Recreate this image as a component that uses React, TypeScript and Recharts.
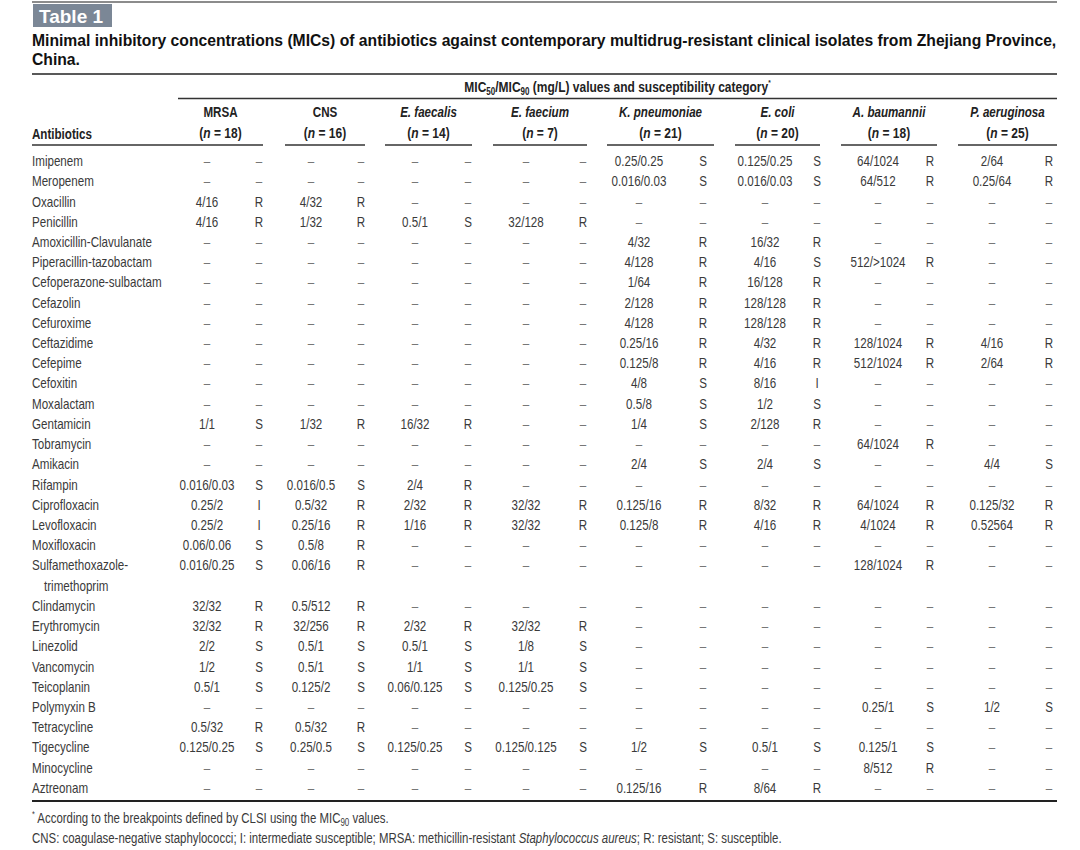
import React from "react";
import { ScatterChart, Scatter, XAxis, YAxis, Customized } from "recharts";

type Cell = [string, string] | null;

// rows of the table
const antibiotics = [
  "Imipenem",
  "Meropenem",
  "Oxacillin",
  "Penicillin",
  "Amoxicillin-Clavulanate",
  "Piperacillin-tazobactam",
  "Cefoperazone-sulbactam",
  "Cefazolin",
  "Cefuroxime",
  "Ceftazidime",
  "Cefepime",
  "Cefoxitin",
  "Moxalactam",
  "Gentamicin",
  "Tobramycin",
  "Amikacin",
  "Rifampin",
  "Ciprofloxacin",
  "Levofloxacin",
  "Moxifloxacin",
  "Sulfamethoxazole-trimethoprim",
  "Clindamycin",
  "Erythromycin",
  "Linezolid",
  "Vancomycin",
  "Teicoplanin",
  "Polymyxin B",
  "Tetracycline",
  "Tigecycline",
  "Minocycline",
  "Aztreonam",
];

const organisms = ["MRSA", "CNS", "E. faecalis", "E. faecium", "K. pneumoniae", "E. coli", "A. baumannii", "P. aeruginosa"];
const italicNames = [false, false, true, true, true, true, true, true];
const isolateCounts = [18, 16, 14, 7, 21, 20, 18, 25];

// MIC50/MIC90 and category per antibiotic (null = "–")
const mrsa: Cell[] = [
  null, null, ["4/16", "R"], ["4/16", "R"], null, null, null, null, null, null, null, null, null,
  ["1/1", "S"], null, null, ["0.016/0.03", "S"], ["0.25/2", "I"], ["0.25/2", "I"], ["0.06/0.06", "S"],
  ["0.016/0.25", "S"], ["32/32", "R"], ["32/32", "R"], ["2/2", "S"], ["1/2", "S"], ["0.5/1", "S"], null,
  ["0.5/32", "R"], ["0.125/0.25", "S"], null, null,
];
const cns: Cell[] = [
  null, null, ["4/32", "R"], ["1/32", "R"], null, null, null, null, null, null, null, null, null,
  ["1/32", "R"], null, null, ["0.016/0.5", "S"], ["0.5/32", "R"], ["0.25/16", "R"], ["0.5/8", "R"],
  ["0.06/16", "R"], ["0.5/512", "R"], ["32/256", "R"], ["0.5/1", "S"], ["0.5/1", "S"], ["0.125/2", "S"], null,
  ["0.5/32", "R"], ["0.25/0.5", "S"], null, null,
];
const eFaecalis: Cell[] = [
  null, null, null, ["0.5/1", "S"], null, null, null, null, null, null, null, null, null,
  ["16/32", "R"], null, null, ["2/4", "R"], ["2/32", "R"], ["1/16", "R"], null,
  null, null, ["2/32", "R"], ["0.5/1", "S"], ["1/1", "S"], ["0.06/0.125", "S"], null,
  null, ["0.125/0.25", "S"], null, null,
];
const eFaecium: Cell[] = [
  null, null, null, ["32/128", "R"], null, null, null, null, null, null, null, null, null,
  null, null, null, null, ["32/32", "R"], ["32/32", "R"], null,
  null, null, ["32/32", "R"], ["1/8", "S"], ["1/1", "S"], ["0.125/0.25", "S"], null,
  null, ["0.125/0.125", "S"], null, null,
];
const kPneumoniae: Cell[] = [
  ["0.25/0.25", "S"], ["0.016/0.03", "S"], null, null, ["4/32", "R"], ["4/128", "R"], ["1/64", "R"],
  ["2/128", "R"], ["4/128", "R"], ["0.25/16", "R"], ["0.125/8", "R"], ["4/8", "S"], ["0.5/8", "S"],
  ["1/4", "S"], null, ["2/4", "S"], null, ["0.125/16", "R"], ["0.125/8", "R"], null,
  null, null, null, null, null, null, null,
  null, ["1/2", "S"], null, ["0.125/16", "R"],
];
const eColi: Cell[] = [
  ["0.125/0.25", "S"], ["0.016/0.03", "S"], null, null, ["16/32", "R"], ["4/16", "S"], ["16/128", "R"],
  ["128/128", "R"], ["128/128", "R"], ["4/32", "R"], ["4/16", "R"], ["8/16", "I"], ["1/2", "S"],
  ["2/128", "R"], null, ["2/4", "S"], null, ["8/32", "R"], ["4/16", "R"], null,
  null, null, null, null, null, null, null,
  null, ["0.5/1", "S"], null, ["8/64", "R"],
];
const aBaumannii: Cell[] = [
  ["64/1024", "R"], ["64/512", "R"], null, null, null, ["512/>1024", "R"], null,
  null, null, ["128/1024", "R"], ["512/1024", "R"], null, null,
  null, ["64/1024", "R"], null, null, ["64/1024", "R"], ["4/1024", "R"], null,
  ["128/1024", "R"], null, null, null, null, null, ["0.25/1", "S"],
  null, ["0.125/1", "S"], ["8/512", "R"], null,
];
const pAeruginosa: Cell[] = [
  ["2/64", "R"], ["0.25/64", "R"], null, null, null, null, null,
  null, null, ["4/16", "R"], ["2/64", "R"], null, null,
  null, null, ["4/4", "S"], null, ["0.125/32", "R"], ["0.52564", "R"], null,
  null, null, null, null, null, null, ["1/2", "S"],
  null, null, null, null,
];

const micByOrganism = [mrsa, cns, eFaecalis, eFaecium, kPneumoniae, eColi, aBaumannii, pAeruginosa];

// layout
const W = 1080;
const H = 850;
const LEFT = 32;
const RIGHT = 1057;
const MIC_X = [207, 311, 415, 526, 639, 765, 878, 992];
const CAT_X = [259, 361, 468, 583, 703, 817, 930, 1049];
const GROUP_SPANS: [number, number][] = [
  [178, 263], [285, 365], [385, 472], [493, 587], [607, 714], [735, 820], [841, 937], [958, 1057],
];
const WRAPPED: Record<string, [string, string]> = {
  "Sulfamethoxazole-trimethoprim": ["Sulfamethoxazole-", "trimethoprim"],
};

const ARIAL = '"Liberation Sans", Arial, sans-serif';
const SX = 0.8; // squeeze Liberation Sans into a condensed face
const BODY = 14.5;
const TEXT = "#3a3a3a";
const DASH = "#777";

// condensed text: Liberation Sans squeezed horizontally around its anchor
const NText = ({
  x,
  y,
  anchor = "start",
  size = BODY,
  bold = false,
  italic = false,
  fill = TEXT,
  central = false,
  children,
}: any) => (
  <g transform={`translate(${x},${y}) scale(${SX},1)`}>
    <text
      x={0}
      y={0}
      textAnchor={anchor}
      dominantBaseline={central ? "central" : undefined}
      fontFamily={ARIAL}
      fontSize={size}
      fontWeight={bold ? "bold" : "normal"}
      fontStyle={italic ? "italic" : "normal"}
      fill={fill}
    >
      {children}
    </text>
  </g>
);

const rowSlot: number[] = [];
const nameRows: { x: number; slot: number; text: string; indent: number }[] = [];
let slotCount = 0;
antibiotics.forEach((name, i) => {
  rowSlot[i] = slotCount;
  const wrap = WRAPPED[name];
  if (wrap) {
    nameRows.push({ x: LEFT, slot: slotCount, text: wrap[0], indent: 0 });
    nameRows.push({ x: LEFT, slot: slotCount + 1, text: wrap[1], indent: 12 });
    slotCount += 2;
  } else {
    nameRows.push({ x: LEFT, slot: slotCount, text: name, indent: 0 });
    slotCount += 1;
  }
});

const cellRows = micByOrganism.map((cells, g) =>
  antibiotics.flatMap((_, i) => {
    const c = cells[i];
    return [
      { x: MIC_X[g], slot: rowSlot[i], text: c ? c[0] : "–" },
      { x: CAT_X[g], slot: rowSlot[i], text: c ? c[1] : "–" },
    ];
  })
);

const NameText = (props: any) => {
  const { cx, cy, payload } = props;
  return (
    <NText x={cx + payload.indent} y={cy} central>
      {payload.text}
    </NText>
  );
};

const CellText = (props: any) => {
  const { cx, cy, payload } = props;
  const dash = payload.text === "–";
  return (
    <NText x={cx} y={cy} anchor="middle" central fill={dash ? DASH : TEXT}>
      {payload.text}
    </NText>
  );
};

const TableFrame = () => (
  <g>
    {/* label and title */}
    <line x1={LEFT} y1={2} x2={RIGHT} y2={2} stroke="#8c8c8c" strokeWidth={2} />
    <rect x={LEFT + 1} y={4} width={79} height={23} fill="#7b8796" />
    <text x={39} y={22.5} fontFamily={ARIAL} fontWeight="bold" fontSize={19} fill="#fff">
      Table 1
    </text>
    <text x={LEFT} y={46} fontFamily={ARIAL} fontWeight="bold" fontSize={15.7} fill="#111">
      Minimal inhibitory concentrations (MICs) of antibiotics against contemporary multidrug-resistant clinical isolates from Zhejiang Province,
    </text>
    <text x={LEFT} y={65} fontFamily={ARIAL} fontWeight="bold" fontSize={15.7} fill="#111">
      China.
    </text>
    <line x1={LEFT} y1={74} x2={RIGHT} y2={74} stroke="#222" strokeWidth={1.6} />

    {/* column header */}
    <NText x={(178 + RIGHT) / 2} y={92} anchor="middle" bold size={15} fill="#222">
      MIC<tspan fontSize={10} dy={3}>50</tspan>
      <tspan dy={-3}>/MIC</tspan>
      <tspan fontSize={10} dy={3}>90</tspan>
      <tspan dy={-3}> (mg/L) values and susceptibility category</tspan>
      <tspan fontSize={8} dy={-7}>*</tspan>
    </NText>
    <line x1={178} y1={98.5} x2={RIGHT} y2={98.5} stroke="#333" strokeWidth={1.3} />

    {organisms.map((name, g) => {
      const [a, b] = GROUP_SPANS[g];
      const mid = (a + b) / 2;
      return (
        <g key={name}>
          <NText x={mid} y={116.5} anchor="middle" bold italic={italicNames[g]} fill="#222">
            {name}
          </NText>
          <NText x={mid} y={137.5} anchor="middle" bold size={15} fill="#222">
            (<tspan fontStyle="italic">n</tspan> = {isolateCounts[g]})
          </NText>
          <line x1={g === 0 ? LEFT : a} y1={145} x2={b} y2={145} stroke="#333" strokeWidth={1.3} />
        </g>
      );
    })}
    <NText x={LEFT} y={138.5} bold fill="#222">
      Antibiotics
    </NText>

    {/* bottom rule and notes */}
    <line x1={LEFT} y1={801} x2={RIGHT} y2={801} stroke="#222" strokeWidth={1.8} />
    <NText x={LEFT} y={823} size={14.3}>
      <tspan fontSize={9} dy={-6}>*</tspan>
      <tspan dy={6}> According to the breakpoints defined by CLSI using the MIC</tspan>
      <tspan fontSize={10} dy={3}>90</tspan>
      <tspan dy={-3}> values.</tspan>
    </NText>
    <NText x={LEFT} y={843} size={14.3}>
      CNS: coagulase-negative staphylococci; I: intermediate susceptible; MRSA: methicillin-resistant{" "}
      <tspan fontStyle="italic">Staphylococcus aureus</tspan>; R: resistant; S: susceptible.
    </NText>
  </g>
);

export default function App() {
  return (
    <div style={{ position: "absolute", left: 0, top: 0, width: W, height: H, background: "#fff" }}>
      <ScatterChart width={W} height={H} margin={{ top: 151, right: 0, bottom: 52, left: 0 }}>
        <XAxis type="number" dataKey="x" domain={[0, W]} allowDataOverflow hide />
        <YAxis type="number" dataKey="slot" domain={[-0.5, slotCount - 0.5]} reversed allowDataOverflow hide />
        <Customized component={TableFrame} />
        <Scatter data={nameRows} shape={NameText} isAnimationActive={false} />
        {cellRows.map((rows, g) => (
          <Scatter key={organisms[g]} name={organisms[g]} data={rows} shape={CellText} isAnimationActive={false} />
        ))}
      </ScatterChart>
    </div>
  );
}
